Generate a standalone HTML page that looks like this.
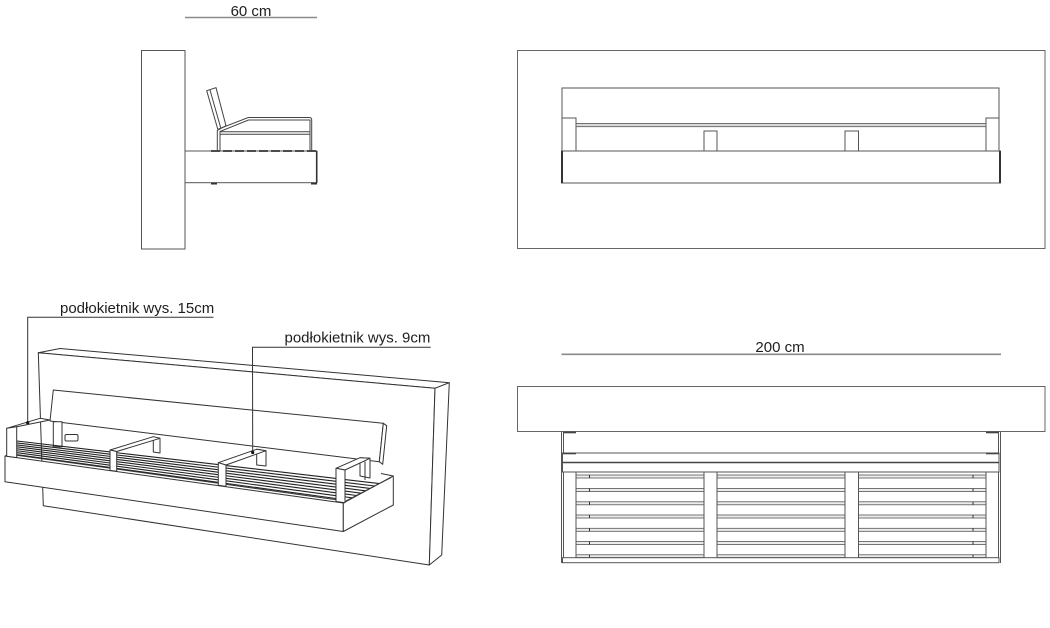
<!DOCTYPE html>
<html><head><meta charset="utf-8"><style>
html,body{margin:0;padding:0;background:#fff;}
svg{display:block;}
text{font-family:"Liberation Sans",Arial,sans-serif;font-size:15px;fill:#1e1e1e;}
</style></head><body>
<svg width="1050" height="628" viewBox="0 0 1050 628" xmlns="http://www.w3.org/2000/svg">
<rect x="0" y="0" width="1050" height="628" fill="#fff"/>

<!-- ============ SIDE VIEW (top-left) ============ -->
<g fill="none" stroke="#444" stroke-width="1">
  <line x1="185" y1="17.5" x2="317" y2="17.5" stroke="#8a8a8a" stroke-width="1.6"/>
  <rect x="141.5" y="50.5" width="43.5" height="198.5" fill="#fff" stroke="#555"/>
  <rect x="185" y="151" width="131.7" height="31.7" fill="#fff" stroke="#555"/>
  <line x1="316.7" y1="151" x2="316.7" y2="183" stroke="#333" stroke-width="1.6"/>
  <line x1="211" y1="151" x2="316" y2="151" stroke="#333" stroke-width="1.8" stroke-dasharray="9 3"/>
  <line x1="211" y1="183.5" x2="217" y2="183.5" stroke="#333" stroke-width="2"/>
  <line x1="311" y1="183.5" x2="317" y2="183.5" stroke="#333" stroke-width="2"/>
  <polygon points="206.7,90.7 216,87.7 226,125.7 218,130" fill="#fff"/>
  <line x1="210" y1="90" x2="220.7" y2="127.7"/>
  <path d="M218.5,129 L248.3,117.5 L309.3,117.5 Q311.7,117.5 311.7,120 L311.7,151"/>
  <path d="M220,131.5 L248.5,120 L310,120 L310,151"/>
  <line x1="220" y1="131.7" x2="310" y2="131.7"/>
  <line x1="220" y1="134.3" x2="310" y2="134.3"/>
  <line x1="217.3" y1="130" x2="217.3" y2="151"/>
  <line x1="220" y1="131" x2="220" y2="151"/>
</g>
<text x="251" y="16" text-anchor="middle">60 cm</text>

<!-- ============ FRONT ELEVATION (top-right) ============ -->
<g fill="none" stroke="#555" stroke-width="1">
  <rect x="517.5" y="50.5" width="527.5" height="198" stroke="#666"/>
  <polyline points="562,151 562,88 999,88 999,151"/>
  <rect x="562" y="118" width="14" height="33" fill="#fff"/>
  <rect x="986" y="118" width="13" height="33" fill="#fff"/>
  <rect x="576" y="123.5" width="410" height="3.2" fill="#d8d8d8" stroke="#555" stroke-width="0.8"/>
  <rect x="704" y="131" width="13" height="20" fill="#fff"/>
  <rect x="845" y="131" width="13.5" height="20" fill="#fff"/>
  <rect x="561.5" y="151" width="439" height="32" fill="#fff"/>
  <line x1="562" y1="151" x2="562" y2="183" stroke="#333" stroke-width="2"/>
  <line x1="1000" y1="151" x2="1000" y2="183" stroke="#333" stroke-width="2"/>
</g>

<!-- ============ PLAN VIEW (bottom-right) ============ -->
<line x1="561.5" y1="354.3" x2="1001" y2="354.3" stroke="#8a8a8a" stroke-width="1.6"/>
<text x="780" y="352" text-anchor="middle">200 cm</text>
<g fill="none" stroke="#555" stroke-width="1">
  <rect x="517.5" y="386.5" width="527.5" height="45" stroke="#666" fill="#fff"/>
  <line x1="561.5" y1="431.5" x2="561.5" y2="563"/>
  <line x1="563.5" y1="431.5" x2="563.5" y2="563"/>
  <line x1="998.5" y1="431.5" x2="998.5" y2="563"/>
  <line x1="1000.5" y1="431.5" x2="1000.5" y2="563"/>
  <line x1="563" y1="432.5" x2="576" y2="432.5" stroke="#444" stroke-width="1.6"/>
  <line x1="986" y1="432.5" x2="999" y2="432.5" stroke="#444" stroke-width="1.6"/>
  <rect x="562.5" y="453" width="436.5" height="19" fill="#fff"/>
  <line x1="562.5" y1="462.5" x2="999" y2="462.5" stroke="#444" stroke-width="1.6"/>
  <line x1="563" y1="453.5" x2="576" y2="453.5" stroke="#444" stroke-width="1.6"/>
  <line x1="986" y1="453.5" x2="999" y2="453.5" stroke="#444" stroke-width="1.6"/>
</g>
<g fill="#ececec" stroke="#555" stroke-width="0.8">
  <rect x="576" y="475" width="128" height="3"/><rect x="717" y="475" width="128" height="3"/><rect x="858.5" y="475" width="127.5" height="3"/>
  <rect x="576" y="488.5" width="128" height="3"/><rect x="717" y="488.5" width="128" height="3"/><rect x="858.5" y="488.5" width="127.5" height="3"/>
  <rect x="576" y="501.8" width="128" height="3"/><rect x="717" y="501.8" width="128" height="3"/><rect x="858.5" y="501.8" width="127.5" height="3"/>
  <rect x="576" y="515" width="128" height="3"/><rect x="717" y="515" width="128" height="3"/><rect x="858.5" y="515" width="127.5" height="3"/>
  <rect x="576" y="528.3" width="128" height="3"/><rect x="717" y="528.3" width="128" height="3"/><rect x="858.5" y="528.3" width="127.5" height="3"/>
  <rect x="576" y="541.5" width="128" height="3"/><rect x="717" y="541.5" width="128" height="3"/><rect x="858.5" y="541.5" width="127.5" height="3"/>
  <rect x="576" y="554.8" width="128" height="2.8"/><rect x="717" y="554.8" width="128" height="2.8"/><rect x="858.5" y="554.8" width="127.5" height="2.8"/>
</g>
<g stroke="#333" stroke-width="1">
  <line x1="589.5" y1="475" x2="589.5" y2="478"/><line x1="973" y1="475" x2="973" y2="478"/>
  <line x1="589.5" y1="488.5" x2="589.5" y2="491.5"/><line x1="973" y1="488.5" x2="973" y2="491.5"/>
  <line x1="589.5" y1="501.8" x2="589.5" y2="504.8"/><line x1="973" y1="501.8" x2="973" y2="504.8"/>
  <line x1="589.5" y1="515" x2="589.5" y2="518"/><line x1="973" y1="515" x2="973" y2="518"/>
  <line x1="589.5" y1="528.3" x2="589.5" y2="531.3"/><line x1="973" y1="528.3" x2="973" y2="531.3"/>
  <line x1="589.5" y1="541.5" x2="589.5" y2="544.5"/><line x1="973" y1="541.5" x2="973" y2="544.5"/>
  <line x1="589.5" y1="554.8" x2="589.5" y2="557.6"/><line x1="973" y1="554.8" x2="973" y2="557.6"/>
</g>
<g fill="#fff" stroke="#555" stroke-width="1">
  <rect x="563.5" y="472" width="12.5" height="86"/>
  <rect x="704" y="472" width="13" height="86"/>
  <rect x="845" y="472" width="13.5" height="86"/>
  <rect x="986" y="472" width="12.5" height="86"/>
  <rect x="562.5" y="557.7" width="436.5" height="5"/>
</g>

<!-- ============ ISOMETRIC VIEW (bottom-left) ============ -->
<g fill="#fff" stroke="#333" stroke-width="1" stroke-linejoin="round">
  <polygon points="38.3,352.7 60,348.5 449.3,382.7 435,388.3"/>
  <polygon points="38.3,352.7 435,388.3 429.3,565 43.3,505.7"/>
  <polygon points="435,388.3 449.3,382.7 441.7,555 429.3,565"/>
  <polygon points="53.3,390 383.3,423.3 379.3,461.7 50,421"/>
  <polygon points="383.3,423.3 386.7,425.7 382.7,464.3 379.3,461.7"/>
  <rect x="53.3" y="421.7" width="8.7" height="25"/>
  <rect x="65" y="434.5" width="13" height="6.5" rx="1.5"/>
  <polygon points="153.3,436.7 160,438.3 160,453 153.3,452"/>
  <polygon points="256.7,449.3 266,450.7 266,466 256.7,465"/>
  <polygon points="360,457.7 370,458.3 370,478 360,476"/>
  <line x1="365" y1="461.5" x2="365" y2="480"/>
</g>
<g stroke="#222" stroke-width="1.1" fill="none">
  <line x1="17" y1="441" x2="110" y2="451.93"/>
  <line x1="17" y1="442.95" x2="110" y2="454.15"/>
  <line x1="17" y1="444.9" x2="110" y2="456.36"/>
  <line x1="17" y1="446.85" x2="110" y2="458.58"/>
  <line x1="17" y1="448.8" x2="110" y2="460.79"/>
  <line x1="17" y1="450.75" x2="110" y2="463.01"/>
  <line x1="17" y1="452.7" x2="110" y2="465.23"/>
  <line x1="17" y1="454.65" x2="110" y2="467.44"/>

  <line x1="117" y1="452.75" x2="218" y2="464.6"/>
  <line x1="117" y1="454.99" x2="218" y2="467.13"/>
  <line x1="117" y1="457.22" x2="218" y2="469.66"/>
  <line x1="117" y1="459.46" x2="218" y2="472.19"/>
  <line x1="117" y1="461.69" x2="218" y2="474.71"/>
  <line x1="117" y1="463.93" x2="218" y2="477.24"/>
  <line x1="117" y1="466.17" x2="218" y2="479.77"/>
  <line x1="117" y1="468.4" x2="218" y2="482.3"/>

  <line x1="226" y1="465.55" x2="336" y2="478.48"/>
  <line x1="226" y1="468.1" x2="336" y2="481.34"/>
  <line x1="226" y1="470.65" x2="336" y2="484.2"/>
  <line x1="226" y1="473.2" x2="336" y2="487.06"/>
  <line x1="226" y1="475.74" x2="336" y2="489.93"/>
  <line x1="226" y1="478.29" x2="336" y2="492.79"/>
  <line x1="226" y1="480.84" x2="336" y2="495.65"/>
  <line x1="226" y1="483.39" x2="336" y2="498.51"/>

  <line x1="345" y1="479.54" x2="379.4" y2="483.6"/>
  <line x1="345" y1="482.43" x2="374.7" y2="486"/>
  <line x1="345" y1="485.31" x2="370.1" y2="488.4"/>
  <line x1="345" y1="488.2" x2="365.5" y2="490.8"/>
  <line x1="345" y1="491.09" x2="361" y2="493.2"/>
  <line x1="345" y1="493.97" x2="356.5" y2="495.5"/>
  <line x1="345" y1="496.86" x2="352.1" y2="497.8"/>
</g>
<g fill="#fff" stroke="#333" stroke-width="1" stroke-linejoin="round">
  <polygon points="5,456 343.3,503 343.3,531.5 5,481.7"/>
  <polygon points="343.3,503 393.3,476 393.3,505 343.3,531.5"/>
  <line x1="17" y1="455.2" x2="343" y2="500.6" fill="none"/>
  <line x1="346" y1="501" x2="391" y2="477.5" fill="none"/>
  <line x1="393.3" y1="476" x2="381" y2="473.5" fill="none"/>
  <line x1="5" y1="456" x2="17" y2="452" fill="none"/>
  <polygon points="6.7,428.3 40,418.3 50,420 16.7,426.7"/>
  <polygon points="6.7,428.3 16.7,426.7 16.7,457.6 6.7,456.2"/>
  <polygon points="110,450 153.3,436.7 160,438.3 116.7,451.5"/>
  <polygon points="110,450 116.7,451.5 116.7,471.3 110,470.4"/>
  <polygon points="218.3,462.7 256.7,449.3 266,450.7 226,465"/>
  <polygon points="218.3,462.7 226,465 226,486.4 218.3,485.3"/>
  <polygon points="336,468.3 360,457.7 370,458.3 345,470"/>
  <polygon points="336,468.3 345,470 345,502.7 336,501.5"/>
</g>

<g stroke="#333" stroke-width="1" fill="none">
  <polyline points="213.5,317.3 27.7,317.3 27.7,422.7"/>
  <polyline points="430.7,347.3 252.5,347.3 252.7,452.5"/>
</g>
<circle cx="27.7" cy="422.7" r="1.6" fill="#111"/>
<circle cx="252.7" cy="452.5" r="1.6" fill="#111"/>
<text x="60" y="313">podłokietnik wys. 15cm</text>
<text x="284.5" y="342.7">podłokietnik wys. 9cm</text>
</svg>
</body></html>
